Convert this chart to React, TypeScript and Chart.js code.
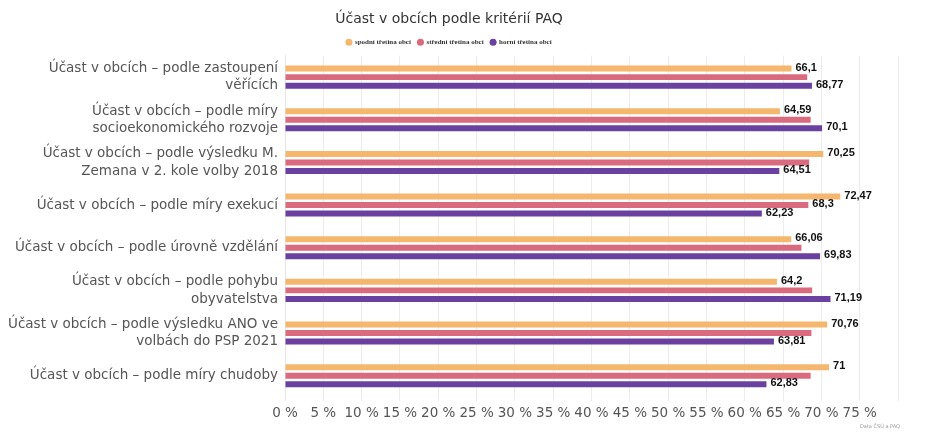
import React, { useEffect, useRef } from 'react';
import { Chart, registerables } from 'chart.js';

Chart.register(...registerables);

const categories: (string | string[])[] = [
  ['Účast v obcích – podle zastoupení', 'věřících'],
  ['Účast v obcích – podle míry', 'socioekonomického rozvoje'],
  ['Účast v obcích – podle výsledku M.', 'Zemana v 2. kole volby 2018'],
  'Účast v obcích – podle míry exekucí',
  'Účast v obcích – podle úrovně vzdělání',
  ['Účast v obcích – podle pohybu', 'obyvatelstva'],
  ['Účast v obcích – podle výsledku ANO ve', 'volbách do PSP 2021'],
  'Účast v obcích – podle míry chudoby',
];

const seriesNames = ['spodní třetina obcí', 'střední třetina obcí', 'horní třetina obcí'];
const lowerThird = [66.1, 64.59, 70.25, 72.47, 66.06, 64.2, 70.76, 71];
const middleThird = [68.15, 68.6, 68.4, 68.3, 67.4, 68.8, 68.7, 68.6];
const upperThird = [68.77, 70.1, 64.51, 62.23, 69.83, 71.19, 63.81, 62.83];
const seriesColors = ['#f5b66e', '#da6a7d', '#6a40a0'];

const TITLE = 'Účast v obcích podle kritérií PAQ';
const CREDIT = 'Data ČSÚ a PAQ';

const fmt = (v: number) => String(v).replace('.', ',');

// data labels at bar ends, skipping ones that collide (like Highcharts does)
const barLabels = {
  id: 'barLabels',
  afterDatasetsDraw(chart: any) {
    const ctx = chart.ctx;
    ctx.save();
    ctx.font = 'bold 11px "Liberation Sans", sans-serif';
    ctx.fillStyle = '#111';
    ctx.textBaseline = 'middle';
    ctx.textAlign = 'left';
    const placed: { x1: number; x2: number; y1: number; y2: number }[] = [];
    [0, 2, 1].forEach((di) => {
      const meta = chart.getDatasetMeta(di);
      meta.data.forEach((bar: any, i: number) => {
        const text = fmt(chart.data.datasets[di].data[i] as number);
        const w = ctx.measureText(text).width;
        const r = { x1: bar.x + 4, x2: bar.x + 4 + w, y1: bar.y - 5, y2: bar.y + 5 };
        const m = 2;
        const hit = placed.some(
          (p) => r.x1 < p.x2 + m && r.x2 + m > p.x1 && r.y1 < p.y2 && r.y2 > p.y1
        );
        if (hit) return;
        placed.push(r);
        ctx.fillText(text, r.x1, bar.y - 1);
      });
    });
    ctx.restore();
  },
};

const credit = {
  id: 'credit',
  afterDraw(chart: any) {
    const ctx = chart.ctx;
    ctx.save();
    ctx.font = '5px "DejaVu Sans", sans-serif';
    ctx.fillStyle = '#999';
    ctx.textAlign = 'right';
    ctx.textBaseline = 'middle';
    ctx.fillText(CREDIT, 900, 427);
    ctx.restore();
  },
};

const App: React.FC = () => {
  const chartRef = useRef<HTMLCanvasElement>(null);
  const chartInstanceRef = useRef<Chart | null>(null);

  useEffect(() => {
    document.body.style.margin = '0';
    if (!chartRef.current) return;
    const ctx = chartRef.current.getContext('2d');
    if (!ctx) return;

    chartInstanceRef.current = new Chart(ctx, {
      type: 'bar',
      data: {
        labels: categories,
        datasets: [lowerThird, middleThird, upperThird].map((d, k) => ({
          label: seriesNames[k],
          data: d,
          backgroundColor: seriesColors[k],
          borderWidth: 0,
          categoryPercentage: 0.6,
          barPercentage: 0.7,
        })),
      },
      options: {
        indexAxis: 'y',
        responsive: false,
        animation: false,
        layout: { padding: { left: 0, right: 27, top: 4, bottom: 0 } },
        plugins: {
          title: {
            display: true,
            text: TITLE,
            color: '#333',
            font: { family: '"DejaVu Sans", sans-serif', size: 14, weight: 'normal' },
            padding: { top: 7, bottom: 4 },
          },
          legend: {
            position: 'top',
            labels: {
              usePointStyle: true,
              pointStyle: 'circle',
              boxWidth: 5,
              boxHeight: 5,
              padding: 7,
              color: '#333',
              font: { family: '"Liberation Serif", serif', size: 7, weight: 'bold' },
            },
          },
          tooltip: { enabled: false },
        },
        scales: {
          x: {
            min: 0,
            max: 80,
            ticks: {
              stepSize: 5,
              color: '#555',
              padding: 4,
              autoSkip: false,
              minRotation: 0,
              maxRotation: 0,
              font: { family: '"DejaVu Sans", sans-serif', size: 13.5 },
              callback: (v: any) => (v === 80 ? '' : `${v} %`),
            },
            grid: { color: '#ececec', tickLength: 4 },
            border: { display: false },
            afterFit: (s: any) => {
              s.height = 44;
            },
          },
          y: {
            ticks: {
              color: '#555',
              padding: 7,
              font: { family: '"DejaVu Sans", sans-serif', size: 13.5, lineHeight: 1.3 },
            },
            grid: { display: false, drawTicks: false },
            border: { display: true, color: '#e6e6e6' },
            afterFit: (s: any) => {
              s.width = 285;
            },
          },
        },
      },
      plugins: [barLabels, credit],
    });

    return () => {
      if (chartInstanceRef.current) {
        chartInstanceRef.current.destroy();
        chartInstanceRef.current = null;
      }
    };
  }, []);

  return (
    <div style={{ width: 925, height: 441, background: '#fff' }}>
      <canvas ref={chartRef} width={925} height={441} aria-label="Účast v obcích podle kritérií PAQ"></canvas>
    </div>
  );
};

export default App;
